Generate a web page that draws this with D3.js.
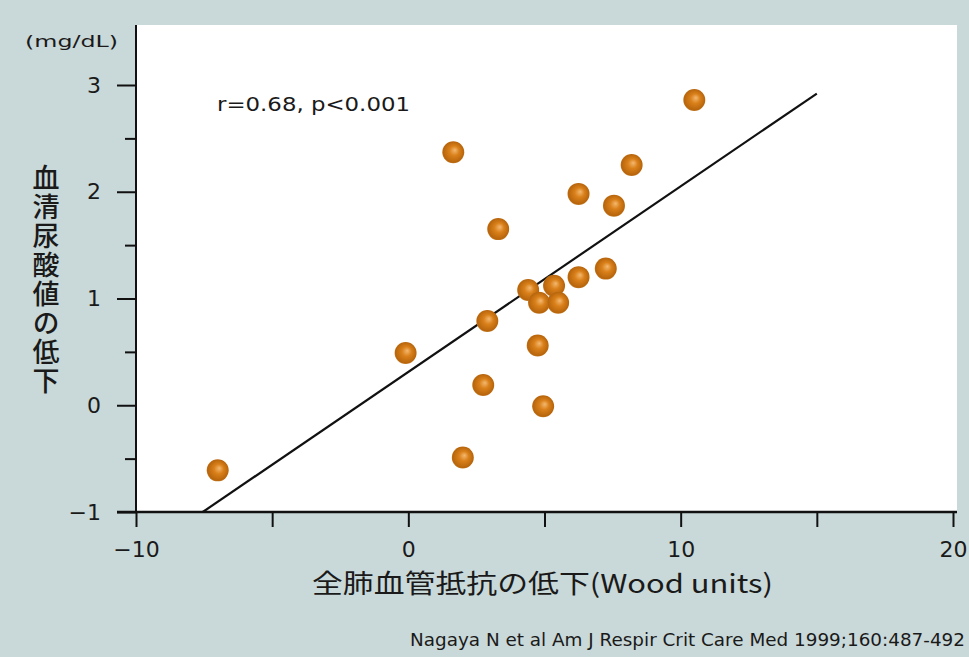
<!DOCTYPE html>
<html>
<head>
<meta charset="utf-8">
<script src="https://cdn.jsdelivr.net/npm/d3@7"></script>
<style>
  body { margin: 0; background: #c9d8d8; }
  svg { display: block; }
  text { font-family: "DejaVu Sans", "Liberation Sans", Arial, sans-serif; fill: #1a1a1a; }
</style>
</head>
<body>
<svg id="chart" width="969" height="657"></svg>
<script>
// 全肺血管抵抗の低下 (Wood units) vs 血清尿酸値の低下 (mg/dL)
var pvrDrop = [-7.0, -0.1, 1.65, 2.0, 2.75, 2.9, 3.3, 4.4, 4.75, 4.8, 4.95, 5.35, 5.5, 6.25, 6.25, 7.25, 7.55, 8.2, 10.5];
var uaDrop  = [-0.61, 0.49, 2.37, -0.49, 0.19, 0.79, 1.65, 1.08, 0.56, 0.96, -0.01, 1.12, 0.96, 1.98, 1.2, 1.28, 1.87, 2.25, 2.86];
var fitLine = [[-7.55, -1.0], [15.0, 2.92]];
var xTickLabels = [-10, 0, 10, 20];
var yTickLabels = [-1, 0, 1, 2, 3];

var svg = d3.select("#chart");
var plotLeft = 136, plotRight = 953, plotTop = 25, plotBottom = 512;

var x = d3.scaleLinear().domain([-10, 20]).range([plotLeft, plotRight]);
var y = d3.scaleLinear().domain([-1, 3]).range([plotBottom, 85]);

// plot background
svg.append("rect")
    .attr("x", plotLeft).attr("y", plotTop)
    .attr("width", 957 - plotLeft).attr("height", plotBottom - plotTop)
    .attr("fill", "#ffffff");

// ball gradient
var grad = svg.append("defs").append("radialGradient")
    .attr("id", "ball")
    .attr("cx", "50%").attr("cy", "50%").attr("r", "55%")
    .attr("fx", "58%").attr("fy", "40%");
grad.append("stop").attr("offset", "0%").attr("stop-color", "#f4b870");
grad.append("stop").attr("offset", "40%").attr("stop-color", "#d9801a");
grad.append("stop").attr("offset", "85%").attr("stop-color", "#b8650c");
grad.append("stop").attr("offset", "100%").attr("stop-color", "#c98a3a");

// x axis
var xAxis = d3.axisBottom(x)
    .tickValues(d3.range(-10, 21, 5))
    .tickSize(15)
    .tickFormat(function(d) { return xTickLabels.indexOf(d) >= 0 ? String(d).replace("-", "−") : ""; });

var gx = svg.append("g")
    .attr("transform", "translate(0," + plotBottom + ")")
    .call(xAxis);
gx.select(".domain").remove();
gx.selectAll(".tick line").attr("stroke", "#111").attr("stroke-width", 2);
gx.selectAll(".tick text")
    .attr("y", 29).attr("dy", "0.71em")
    .style("font-family", "'DejaVu Sans', sans-serif")
    .style("font-size", "22px").style("fill", "#1a1a1a");

// y axis
var yAxis = d3.axisLeft(y)
    .tickValues(d3.range(-1, 3.01, 0.5))
    .tickSize(0)
    .tickFormat(function(d) { return yTickLabels.indexOf(d) >= 0 ? String(d).replace("-", "−") : ""; });

var gy = svg.append("g")
    .attr("transform", "translate(" + plotLeft + ",0)")
    .call(yAxis);
gy.select(".domain").remove();
gy.selectAll(".tick text")
    .attr("x", -35)
    .style("font-family", "'DejaVu Sans', sans-serif")
    .style("font-size", "22px").style("fill", "#1a1a1a");
gy.selectAll(".tick").append("line")
    .attr("x1", function(d) { return Number.isInteger(d) ? -19 : -11; })
    .attr("x2", 0)
    .attr("stroke", "#111").attr("stroke-width", 2);

// axis lines
svg.append("line")
    .attr("x1", 117).attr("x2", 957)
    .attr("y1", plotBottom).attr("y2", plotBottom)
    .attr("stroke", "#111").attr("stroke-width", 2.5);
svg.append("line")
    .attr("x1", plotLeft).attr("x2", plotLeft)
    .attr("y1", plotTop).attr("y2", plotBottom)
    .attr("stroke", "#111").attr("stroke-width", 2);

// regression line
svg.append("line")
    .attr("x1", x(fitLine[0][0])).attr("y1", y(fitLine[0][1]))
    .attr("x2", x(fitLine[1][0])).attr("y2", y(fitLine[1][1]))
    .attr("stroke", "#111").attr("stroke-width", 2.2);

// points
svg.append("g").selectAll("circle")
    .data(pvrDrop)
    .enter()
    .append("circle")
    .attr("cx", function(d) { return x(d); })
    .attr("cy", function(d, i) { return y(uaDrop[i]); })
    .attr("r", 11)
    .attr("fill", "url(#ball)");

// texts
svg.append("text")
    .attr("x", 217).attr("y", 111)
    .attr("textLength", 193)
    .attr("lengthAdjust", "spacingAndGlyphs")
    .style("font-size", "20px")
    .text("r=0.68, p<0.001");

svg.append("text")
    .attr("x", 25).attr("y", 47)
    .attr("textLength", 93)
    .attr("lengthAdjust", "spacingAndGlyphs")
    .style("font-size", "16px")
    .text("(mg/dL)");

svg.append("text")
    .attr("x", 46).attr("y", 164)
    .style("writing-mode", "vertical-rl")
    .style("font-family", "'Noto Sans CJK JP', sans-serif")
    .style("font-size", "27px")
    .style("font-weight", "500")
    .style("letter-spacing", "2px")
    .text("血清尿酸値の低下");

svg.append("text")
    .attr("x", 312).attr("y", 593)
    .attr("textLength", 461)
    .attr("lengthAdjust", "spacingAndGlyphs")
    .style("font-family", "'Noto Sans CJK JP', sans-serif")
    .style("font-size", "26px")
    .text("全肺血管抵抗の低下(Wood units)");

svg.append("text")
    .attr("x", 410).attr("y", 646)
    .attr("textLength", 555)
    .attr("lengthAdjust", "spacingAndGlyphs")
    .style("font-size", "18px")
    .text("Nagaya N et al Am J Respir Crit Care Med 1999;160:487-492");
</script>
</body>
</html>
